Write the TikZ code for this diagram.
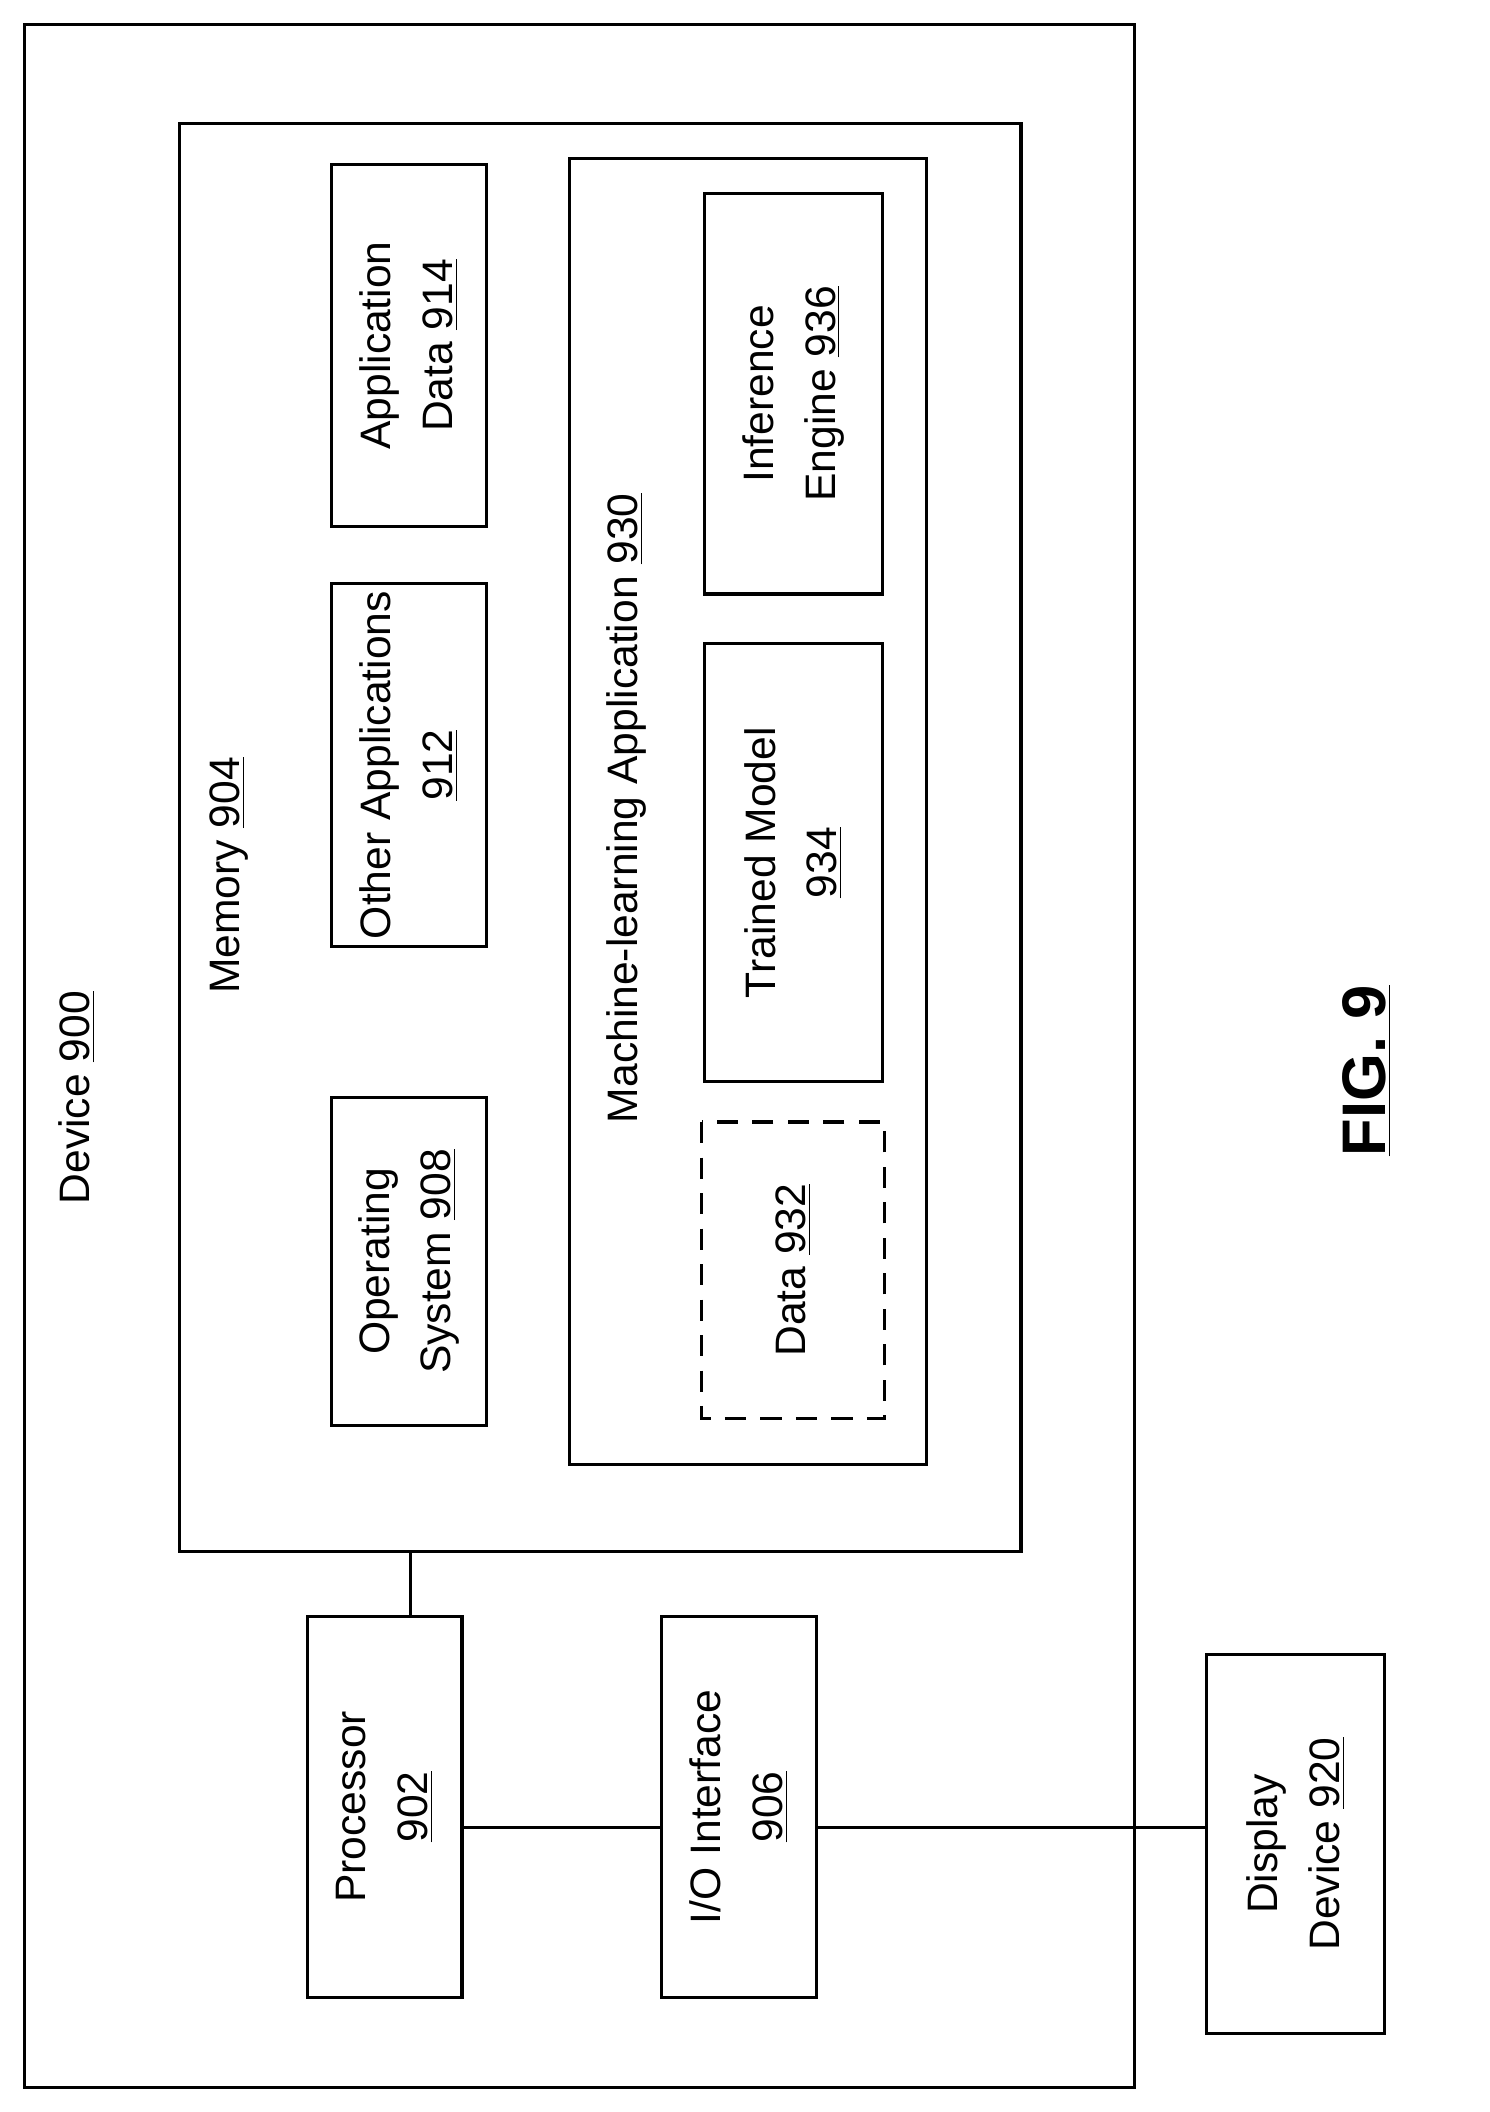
\documentclass[tikz,border=0pt]{standalone}
\usepackage{fontspec}
\setmainfont{Liberation Sans}
\usetikzlibrary{positioning}
\tikzset{
    blk/.style={draw, line width=1.3pt},
    lbl/.style={rotate=90, align=center, font=\fontsize{18}{26}\selectfont},
    wire/.style={line width=1.3pt}
}
\begin{document}
\begin{tikzpicture}[x=0.02cm, y=-0.02cm]
    \useasboundingbox (0,0) rectangle (1106,1568);
    % Outer device
    \draw[blk] (18,18) rectangle (842,1550);
    \node[lbl] (devlbl) at (57,815) {Device \underline{900}};
    % Memory
    \draw[blk] (133,92) rectangle (758,1152);
    \node[lbl] (memlbl) at (170,650) {Memory \underline{904}};
    \draw[blk] (246,815) rectangle (361,1058);
    \node[lbl] (oslbl) at (303.5,936.5) {Operating\\System \underline{908}};
    \draw[blk] (246,433) rectangle (361,703);
    \node[lbl] (otherlbl) at (303.5,568) {Other Applications\\\underline{912}};
    \draw[blk] (246,122) rectangle (361,391);
    \node[lbl] (appdlbl) at (303.5,256.5) {Application\\Data \underline{914}};
    % Machine-learning application
    \draw[blk] (423,118) rectangle (688,1087);
    \node[lbl] (mllbl) at (465,600) {Machine-learning Application \underline{930}};
    \draw[blk] (523,144) rectangle (655,441);
    \node[lbl] (inflbl) at (589,292.5) {Inference\\Engine \underline{936}};
    \draw[blk] (523,478) rectangle (655,803);
    \node[lbl] (tmlbl) at (589,640.5) {Trained Model\\\underline{934}};
    \draw[blk, dashed, dash pattern=on 9pt off 6pt] (521,833) rectangle (657,1053);
    \node[lbl] (datalbl) at (589,943) {Data \underline{932}};
    % Processor, I/O, display
    \draw[blk] (228,1200) rectangle (343,1483);
    \node[lbl] (proc) at (285.5,1341.5) {Processor\\\underline{902}};
    \draw[blk] (491,1200) rectangle (606,1483);
    \node[lbl] (io) at (548.5,1341.5) {I/O Interface\\\underline{906}};
    \draw[blk] (896,1228) rectangle (1028,1510);
    \node[lbl] (disp) at (962,1369) {Display\\Device \underline{920}};
    % Connections
    \coordinate (memb) at (305,1152);
    \coordinate (proct) at (305,1200);
    \coordinate (procr) at (343,1357);
    \coordinate (iol) at (491,1357);
    \coordinate (ior) at (606,1357);
    \coordinate (displ) at (896,1357);
    \draw[wire] (memb) -- (proct);
    \draw[wire] (procr) -- (iol);
    \draw[wire] (ior) -- (displ);
    % Figure label
    \node[rotate=90, font=\fontsize{26}{30}\selectfont\bfseries] (fig) at (1015,795) {\underline{FIG. 9}};
\end{tikzpicture}
\end{document}
